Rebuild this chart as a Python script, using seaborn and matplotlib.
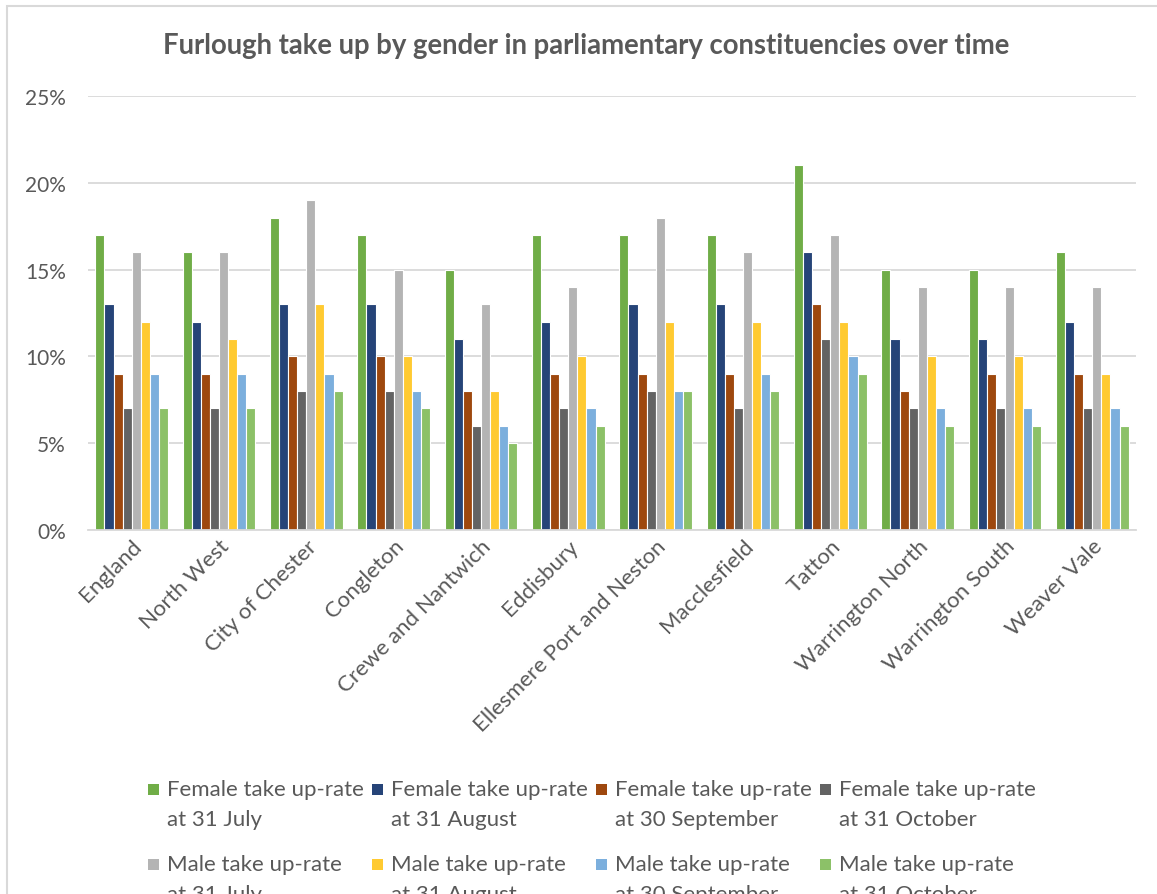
import pandas as pd
import seaborn as sns
import matplotlib.pyplot as plt
from matplotlib.patches import Rectangle
from matplotlib.ticker import FuncFormatter

# Constituencies on the x axis
constituencies = ["England", "North West", "City of Chester", "Congleton",
                  "Crewe and Nantwich", "Eddisbury", "Ellesmere Port and Neston",
                  "Macclesfield", "Tatton", "Warrington North",
                  "Warrington South", "Weaver Vale"]

# Take-up rates in percent
female_jul = [17, 16, 18, 17, 15, 17, 17, 17, 21, 15, 15, 16]
female_aug = [13, 12, 13, 13, 11, 12, 13, 13, 16, 11, 11, 12]
female_sep = [9, 9, 10, 10, 8, 9, 9, 9, 13, 8, 9, 9]
female_oct = [7, 7, 8, 8, 6, 7, 8, 7, 11, 7, 7, 7]
male_jul = [16, 16, 19, 15, 13, 14, 18, 16, 17, 14, 14, 14]
male_aug = [12, 11, 13, 10, 8, 10, 12, 12, 12, 10, 10, 9]
male_sep = [9, 9, 9, 8, 6, 7, 8, 9, 10, 7, 7, 7]
male_oct = [7, 7, 8, 7, 5, 6, 8, 8, 9, 6, 6, 6]

series_names = ["Female take up-rate\nat 31 July", "Female take up-rate\nat 31 August",
                "Female take up-rate\nat 30 September", "Female take up-rate\nat 31 October",
                "Male take up-rate\nat 31 July", "Male take up-rate\nat 31 August",
                "Male take up-rate\nat 30 September", "Male take up-rate\nat 31 October"]
series_values = [female_jul, female_aug, female_sep, female_oct,
                 male_jul, male_aug, male_sep, male_oct]

colors = ["#70AD47", "#264478", "#9E480E", "#636363",
          "#B4B4B4", "#FFCA31", "#7CAFDD", "#8CC168"]

# long form table for seaborn
rows = []
for name, vals in zip(series_names, series_values):
    for c, v in zip(constituencies, vals):
        rows.append({"constituency": c, "series": name, "rate": v})
df = pd.DataFrame(rows)

sns.set_style("white")
plt.rcParams['font.family'] = ['Lato', 'DejaVu Sans']
text_grey = "#595959"
W, H = 1157, 895

fig = plt.figure(figsize=(11.57, 8.95), dpi=100)
ax = fig.add_axes([88 / W, 1 - 531 / H, (1136 - 88) / W, (531 - 97) / H])

sns.barplot(data=df, x="constituency", y="rate", hue="series", palette=colors,
            saturation=1, width=0.83, edgecolor="white", linewidth=0.8,
            ax=ax, errorbar=None, legend=False)

ax.set_ylim(0, 25)
ax.set_yticks([0, 5, 10, 15, 20, 25])
ax.yaxis.set_major_formatter(FuncFormatter(lambda v, p: f"{v:.0f}%"))
ax.set_xlim(-0.5, len(constituencies) - 0.5)
ax.grid(axis="y", color="#D9D9D9", linewidth=1.3)
ax.set_axisbelow(True)
for s in ["top", "right", "left"]:
    ax.spines[s].set_visible(False)
ax.spines["bottom"].set_color("#D9D9D9")
ax.spines["bottom"].set_linewidth(1.3)
ax.tick_params(axis="both", length=0, labelsize=15, colors=text_grey)
ax.tick_params(axis="x", labelsize=16, pad=4)
ax.tick_params(axis="y", pad=16)
ax.set_xlabel("")
ax.set_ylabel("")
plt.setp(ax.get_xticklabels(), rotation=45, ha="right", rotation_mode="anchor")

fig.text(586 / W, 1 - 46 / H,
         "Furlough take up by gender in parliamentary constituencies over time",
         ha="center", va="center", fontsize=19.8, fontweight="bold", color=text_grey)

# legend drawn by hand: 2 rows of 4, marker next to the first text line
for i, (name, col) in enumerate(zip(series_names, colors)):
    r, c = divmod(i, 4)
    x0 = 148 + c * 224
    y0 = 790 + r * 75
    fig.add_artist(Rectangle((x0 / W, 1 - (y0 + 6) / H), 11 / W, 11 / H,
                             transform=fig.transFigure, facecolor=col,
                             edgecolor="none"))
    line1, line2 = name.split("\n")
    fig.text((x0 + 19) / W, 1 - y0 / H, line1, ha="left", va="center",
             fontsize=16, color=text_grey)
    fig.text((x0 + 19) / W, 1 - (y0 + 30) / H, line2, ha="left", va="center",
             fontsize=16, color=text_grey)

# chart area border (left and top visible)
fig.add_artist(Rectangle((7 / W, -0.1), 1.2, 1 - 7 / H + 0.1,
                         transform=fig.transFigure, facecolor="none",
                         edgecolor="#D9D9D9", linewidth=1.5))

plt.savefig("out.png", dpi=100)
